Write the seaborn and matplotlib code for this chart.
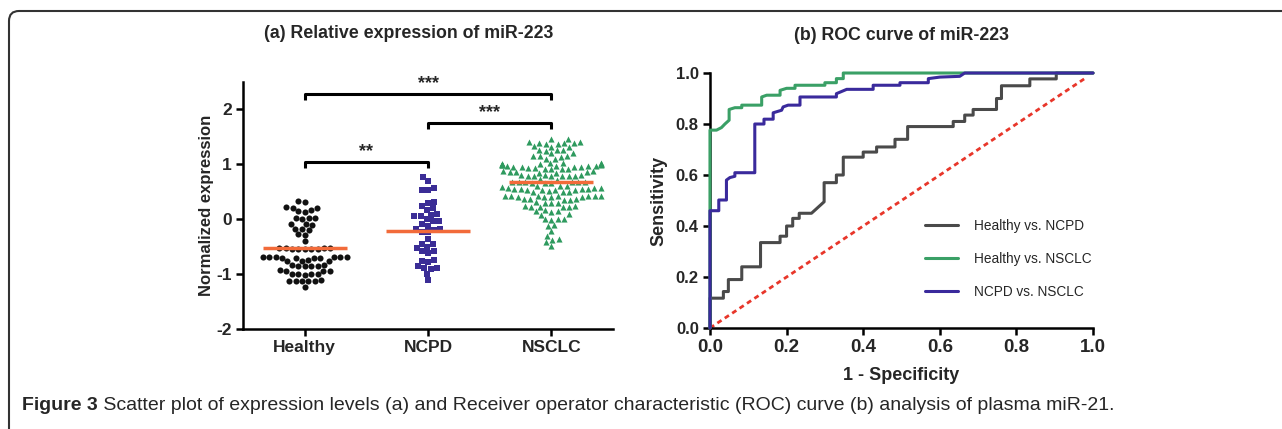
import numpy as np
import matplotlib
matplotlib.use("Agg")
import matplotlib.pyplot as plt
import matplotlib.patches as mpatches
import matplotlib.transforms as mtransforms
import seaborn as sns

# ---- data ----
groups = ["Healthy", "NCPD", "NSCLC"]

healthy = [0.34, 0.32, 0.22, 0.20, 0.21, 0.15, 0.14, 0.16, 0.03, 0.02, 0.01, 0.03,
           -0.08, -0.10, -0.09, -0.17, -0.19, -0.18, -0.27, -0.28, -0.40,
           -0.53, -0.54, -0.55, -0.52, -0.53, -0.54, -0.55, -0.53, -0.54,
           -0.68, -0.69, -0.70, -0.68, -0.69, -0.71, -0.70, -0.68, -0.69, -0.70,
           -0.76, -0.75, -0.77, -0.76, -0.84, -0.85, -0.86, -0.84, -0.85, -0.86,
           -0.93, -0.94, -0.95, -0.94, -1.00, -0.99, -1.01, -1.00, -1.00,
           -1.12, -1.13, -1.12, -1.11, -1.13, -1.12, -1.23]

ncpd = [0.76, 0.70, 0.57, 0.53, 0.54, 0.32, 0.29, 0.24, 0.20, 0.17, 0.09, 0.08,
        0.06, 0.05, 0.00, -0.04, -0.03, -0.09, -0.12, -0.18, -0.17, -0.19,
        -0.23, -0.24, -0.36, -0.45, -0.46, -0.51, -0.52, -0.57, -0.58, -0.62,
        -0.75, -0.76, -0.78, -0.85, -0.89, -0.88, -0.90, -0.99, -1.10]

nsclc = [1.47, 1.46, 1.41, 1.40, 1.38, 1.37, 1.38, 1.39, 1.37, 1.32, 1.31, 1.33,
         1.26, 1.25, 1.27, 1.26, 1.20, 1.21, 1.15, 1.14, 1.16, 1.15, 1.10, 1.09,
         1.01, 1.02, 1.00, 1.01, 1.02, 1.00, 1.01, 1.02, 1.00, 1.01,
         0.97, 0.96, 0.98, 0.97, 0.96, 0.98, 0.97, 0.96, 0.98, 0.97, 0.96,
         0.92, 0.91, 0.93, 0.92, 0.91, 0.93,
         0.86, 0.85, 0.87, 0.86, 0.85, 0.87, 0.86,
         0.79, 0.78, 0.80, 0.79, 0.78, 0.80, 0.79, 0.78, 0.80,
         0.73, 0.72,
         0.67, 0.66, 0.68, 0.67, 0.66, 0.68, 0.67, 0.66, 0.68,
         0.60, 0.61, 0.59, 0.60,
         0.55, 0.54, 0.56, 0.55, 0.54, 0.56, 0.55, 0.54, 0.56, 0.55, 0.54,
         0.50, 0.49, 0.51, 0.50,
         0.42, 0.41, 0.43, 0.42, 0.41, 0.43, 0.42, 0.41, 0.43, 0.42, 0.41,
         0.36, 0.35, 0.37, 0.36, 0.35,
         0.30, 0.29, 0.31, 0.30,
         0.23, 0.22, 0.24, 0.23, 0.22, 0.24,
         0.15, 0.14, 0.16, 0.15,
         0.09, 0.08,
         0.00, 0.01, -0.01, 0.00,
         -0.12, -0.11, -0.21, -0.30, -0.36, -0.37, -0.41, -0.48]

medians = [-0.53, -0.22, 0.68]

# significance brackets: (from, to, height, label)
brackets = [(0, 2, 2.29, "***"), (1, 2, 1.76, "***"), (0, 1, 1.05, "**")]

# ROC curves
roc_labels = ["Healthy vs. NCPD", "Healthy vs. NSCLC", "NCPD vs. NSCLC"]
gray_fpr = [0, 0, 0.035, 0.035, 0.048, 0.048, 0.083, 0.083, 0.132, 0.132, 0.183, 0.183,
            0.2, 0.2, 0.216, 0.216, 0.233, 0.233, 0.265, 0.298, 0.298, 0.33, 0.33,
            0.348, 0.348, 0.4, 0.4, 0.435, 0.435, 0.483, 0.483, 0.516, 0.516,
            0.635, 0.635, 0.665, 0.665, 0.687, 0.687, 0.748, 0.748, 0.761, 0.761,
            0.835, 0.835, 0.904, 0.904, 1.0]
gray_tpr = [0, 0.117, 0.117, 0.143, 0.143, 0.19, 0.19, 0.24, 0.24, 0.335, 0.335, 0.36,
            0.36, 0.40, 0.40, 0.43, 0.43, 0.45, 0.45, 0.495, 0.57, 0.57, 0.60,
            0.60, 0.67, 0.67, 0.69, 0.69, 0.71, 0.71, 0.74, 0.74, 0.79,
            0.79, 0.81, 0.81, 0.835, 0.835, 0.857, 0.857, 0.90, 0.90, 0.95,
            0.95, 0.977, 0.977, 1.0, 1.0]
green_fpr = [0, 0, 0.017, 0.03, 0.039, 0.05, 0.05, 0.065, 0.083, 0.083, 0.135, 0.135,
             0.148, 0.183, 0.183, 0.2, 0.222, 0.222, 0.3, 0.3, 0.33, 0.33, 0.348, 0.348, 1.0]
green_tpr = [0, 0.776, 0.776, 0.786, 0.80, 0.815, 0.857, 0.864, 0.864, 0.874, 0.874, 0.906,
             0.913, 0.913, 0.932, 0.94, 0.94, 0.952, 0.952, 0.962, 0.962, 0.978, 0.978, 1.0, 1.0]
blue_fpr = [0, 0, 0.023, 0.023, 0.043, 0.043, 0.052, 0.065, 0.065, 0.117, 0.117, 0.141,
            0.141, 0.165, 0.165, 0.187, 0.191, 0.204, 0.235, 0.235, 0.33, 0.33, 0.357,
            0.426, 0.426, 0.496, 0.496, 0.57, 0.57, 0.6, 0.652, 0.665, 1.0]
blue_tpr = [0, 0.46, 0.46, 0.502, 0.502, 0.58, 0.59, 0.595, 0.609, 0.609, 0.80, 0.80,
            0.819, 0.819, 0.844, 0.854, 0.867, 0.874, 0.874, 0.906, 0.906, 0.919, 0.936,
            0.936, 0.952, 0.952, 0.962, 0.962, 0.978, 0.984, 0.987, 1.0, 1.0]
chance = [0, 0.985]

caption_bold = "Figure 3"
caption_rest = (" Scatter plot of expression levels (a) and Receiver operator characteristic "
                "(ROC) curve (b) analysis of plasma miR-21.")

# ---- style ----
sns.set_theme(style="ticks")
plt.rcParams["font.family"] = ["Liberation Sans", "DejaVu Sans"]
plt.rcParams["axes.unicode_minus"] = False

fig = plt.figure(figsize=(12.82, 4.29), dpi=100)
ax1 = fig.add_axes([0.1896, 0.2331, 0.2886, 0.5758])
ax2 = fig.add_axes([0.5538, 0.2354, 0.2988, 0.5944])

# ---- (a) scatter ----
markers = ["o", "s", "^"]
colors = ["#111111", "#3b2d96", "#2e9a5e"]
for grp, vals, mk, col in zip(groups, [healthy, ncpd, nsclc], markers, colors):
    sns.swarmplot(x=[grp] * len(vals), y=vals, order=groups, marker=mk, color=col,
                  size=4.4, linewidth=0, ax=ax1, zorder=3)

pos = np.arange(len(groups))
ax1.hlines(medians, pos - 0.34, pos + 0.34, color="#f26b3a", lw=2.5, zorder=5)

for i, j, h, lab in brackets:
    ax1.plot([i, i, j, j], [h - 0.12, h, h, h - 0.12], color="black", lw=2.2,
             clip_on=False, solid_capstyle="butt")
    ax1.text((i + j) / 2, h + 0.18, lab, ha="center", va="center", fontsize=13,
             fontweight="bold", clip_on=False)

ax1.set_xlim(-0.5, 2.5)
ax1.set_ylim(-2, 2.5)
ax1.set_yticks([-2, -1, 0, 1, 2])
ax1.set_ylabel("Normalized expression", fontsize=12, fontweight="bold", labelpad=2)
ax1.set_xlabel("")
for lbl in ax1.get_xticklabels():
    lbl.set_fontweight("bold")
    lbl.set_fontsize(12.5)
for lbl in ax1.get_yticklabels():
    lbl.set_fontweight("bold")
    lbl.set_fontsize(12.5)
ax1.tick_params(width=1.8, length=5, color="black", pad=3)
sns.despine(ax=ax1)
for s in ["left", "bottom"]:
    ax1.spines[s].set_linewidth(1.8)
    ax1.spines[s].set_color("black")

# ---- (b) ROC ----
roc_colors = ["#4a4a4a", "#3aa066", "#3a2a9c"]
for fx, ty, lab, col in zip([gray_fpr, green_fpr, blue_fpr], [gray_tpr, green_tpr, blue_tpr],
                            roc_labels, roc_colors):
    sns.lineplot(x=fx, y=ty, sort=False, estimator=None, color=col, lw=2.2,
                 label=lab, ax=ax2, clip_on=False, zorder=3)
sns.lineplot(x=chance, y=chance, sort=False, estimator=None, color="#e8362a", lw=2,
             linestyle=(0, (1.8, 1.4)), ax=ax2, zorder=2)

ax2.set_xlim(0, 1)
ax2.set_ylim(0, 1)
ax2.set_xticks(np.arange(0, 1.01, 0.2))
ax2.set_yticks(np.arange(0, 1.01, 0.2))
ax2.set_xticklabels([f"{v:.1f}" for v in np.arange(0, 1.01, 0.2)], fontsize=13.5, fontweight="bold")
ax2.set_yticklabels([f"{v:.1f}" for v in np.arange(0, 1.01, 0.2)], fontsize=12, fontweight="bold")
ax2.set_xlabel("1 - Specificity", fontsize=13, fontweight="bold", labelpad=8)
ax2.set_ylabel("Sensitivity", fontsize=13, fontweight="bold", labelpad=6)
ax2.tick_params(width=1.8, length=5, color="black", pad=3)
sns.despine(ax=ax2)
for s in ["left", "bottom"]:
    ax2.spines[s].set_linewidth(1.8)
    ax2.spines[s].set_color("black")

ax2.legend(loc="center left", bbox_to_anchor=(0.53, 0.27), frameon=False, fontsize=9.8,
           handlelength=2.4, handletextpad=1.2, labelspacing=1.4)

# ---- titles and caption ----
fig.text(409 / 1282, 1 - 34 / 429, "(a) Relative expression of miR-223",
         ha="center", va="center", fontsize=12.8, fontweight="bold")
fig.text(901 / 1282, 1 - 35 / 429, "(b) ROC curve of miR-223",
         ha="center", va="center", fontsize=12.8, fontweight="bold")

t1 = fig.text(22 / 1282, 1 - 405 / 429, caption_bold, ha="left", va="center",
              fontsize=14, fontweight="bold")
fig.add_artist(plt.Annotation(caption_rest, xy=(1, 0.5), xycoords=t1, va="center",
                              ha="left", fontsize=14))

# rounded frame round the figure
frame = mpatches.FancyBboxPatch((9, -10), 1400, 428, boxstyle="round,pad=0,rounding_size=10",
                                transform=mtransforms.IdentityTransform(),
                                fill=False, edgecolor="#333333", lw=1.5)
fig.add_artist(frame)

fig.savefig("out.png", dpi=100)
